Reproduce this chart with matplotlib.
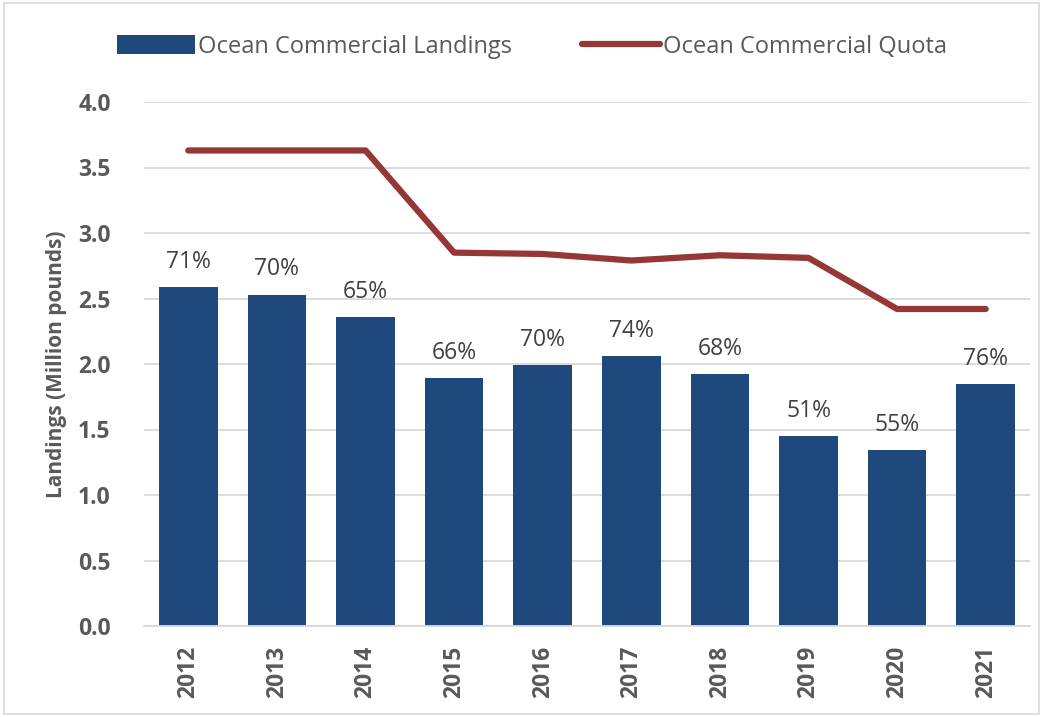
import numpy as np
import matplotlib.pyplot as plt
from matplotlib.patches import Rectangle

years = ["2012", "2013", "2014", "2015", "2016", "2017", "2018", "2019", "2020", "2021"]
landings = [2.59, 2.53, 2.36, 1.89, 1.99, 2.06, 1.92, 1.45, 1.34, 1.85]
quota = [3.63, 3.63, 3.63, 2.85, 2.84, 2.79, 2.83, 2.81, 2.42, 2.42]
pct_labels = ["71%", "70%", "65%", "66%", "70%", "74%", "68%", "51%", "55%", "76%"]

plt.rcParams['font.family'] = ['Open Sans', 'DejaVu Sans']
text_col = "#595959"

fig = plt.figure(figsize=(10.43, 7.17), dpi=100)
ax = fig.add_axes([144 / 1043, (717 - 626) / 717, (1030 - 144) / 1043, (626 - 102) / 717])

x = np.arange(len(years))
bars = ax.bar(x, landings, 0.66, color="#1F497D", label="Ocean Commercial Landings", zorder=2)
line, = ax.plot(x, quota, color="#953735", lw=4.5, solid_capstyle="round",
                label="Ocean Commercial Quota", zorder=3)

# etiquetas de porcentaje encima de las barras
for xi, v, lab in zip(x, landings, pct_labels):
    ax.text(xi, v + 0.1, lab, ha="center", va="bottom", fontsize=16.5, color="#404040")

ax.set_xlim(-0.5, len(years) - 0.5)
ax.set_ylim(0, 4.0)
ax.set_yticks(np.arange(0, 4.01, 0.5))
ax.set_yticklabels([f"{t:.1f}" for t in np.arange(0, 4.01, 0.5)],
                   fontsize=16.5, fontweight="bold", color=text_col)
ax.set_xticks(x)
ax.set_xticklabels(years, rotation=90, fontsize=16.5, fontweight="bold", color=text_col)
ax.tick_params(axis="y", length=0, pad=24)
ax.tick_params(axis="x", length=0, pad=14)
ax.grid(axis="y", color="#D9D9D9", lw=1.3, zorder=0)
for s in ["top", "right", "left"]:
    ax.spines[s].set_visible(False)
ax.spines["bottom"].set_color("#D9D9D9")
ax.spines["bottom"].set_linewidth(1.3)

ax.set_ylabel("Landings (Million pounds)", fontsize=15, fontweight="bold", color=text_col, labelpad=8)

fig.legend([bars, line], ["Ocean Commercial Landings", "Ocean Commercial Quota"],
           loc="center", bbox_to_anchor=(0.51, 0.935), ncol=2, frameon=False,
           fontsize=17, labelcolor=text_col, handlelength=3.3, handleheight=0.9,
           handletextpad=0.1, columnspacing=3.0)

fig.patches.append(Rectangle((0.004, 0.004), 0.992, 0.992, transform=fig.transFigure,
                             fill=False, edgecolor="#D9D9D9", lw=1.2))

fig.savefig("out.png", dpi=100)
